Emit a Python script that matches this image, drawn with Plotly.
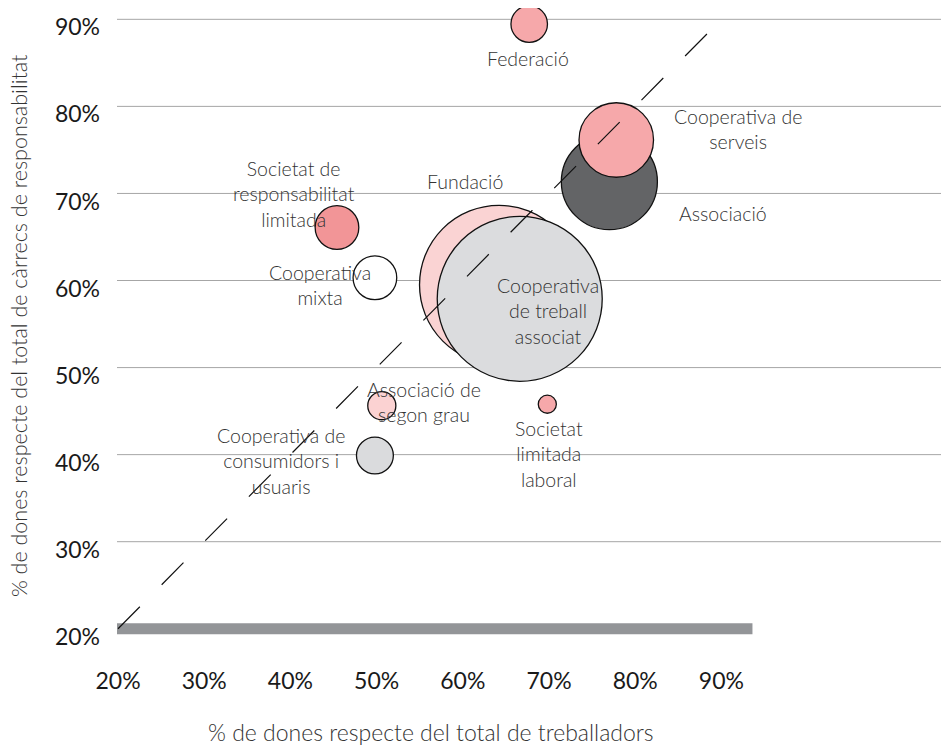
import plotly.graph_objects as go

# ---- data ----
categories = [
    "Associació", "Cooperativa de serveis", "Fundació",
    "Cooperativa de treball associat", "Federació",
    "Societat de responsabilitat limitada", "Cooperativa mixta",
    "Associació de segon grau", "Cooperativa de consumidors i usuaris",
    "Societat limitada laboral",
]
pct_treballadores = [77.0, 77.8, 64.2, 66.6, 67.7, 45.4, 49.8, 50.6, 49.8, 69.8]
pct_carrecs = [71.35, 76.14, 59.5, 57.9, 89.46, 66.09, 60.32, 45.62, 39.90, 45.79]
pes = [33.9, 20.4, 92.9, 100.0, 4.9, 7.0, 7.0, 2.9, 5.0, 1.2]
diagonal = [20, 90]
tick_vals = [20, 30, 40, 50, 60, 70, 80, 90]
tick_text = ["20%", "30%", "40%", "50%", "60%", "70%", "80%", "90%"]

# ---- styles ----
colors = ["#636466", "#F6A8AA", "#FAD3D3", "#DBDCDE", "#F6A8AA",
          "#F29597", "#FFFFFF", "#FBD2D2", "#DADBDD", "#F6A8AA"]
label_text = {
    "Associació": "Associació",
    "Cooperativa de serveis": "Cooperativa de<br>serveis",
    "Fundació": "Fundació",
    "Cooperativa de treball associat": "Cooperativa<br>de treball<br>associat",
    "Federació": "Federació",
    "Societat de responsabilitat limitada": "Societat de<br>responsabilitat<br>limitada",
    "Cooperativa mixta": "Cooperativa<br>mixta",
    "Associació de segon grau": "Associació de<br>segon grau",
    "Cooperativa de consumidors i usuaris": "Cooperativa de<br>consumidors i<br>usuaris",
    "Societat limitada laboral": "Societat<br>limitada<br>laboral",
}
label_pos = {
    "Associació": (90.19, 67.75),
    "Cooperativa de serveis": (91.93, 77.40),
    "Fundació": (60.26, 71.43),
    "Cooperativa de treball associat": (69.88, 56.50),
    "Federació": (67.56, 85.55),
    "Societat de responsabilitat limitada": (40.42, 69.94),
    "Cooperativa mixta": (43.43, 59.49),
    "Associació de segon grau": (55.50, 46.05),
    "Cooperativa de consumidors i usuaris": (38.91, 39.27),
    "Societat limitada laboral": (70.0, 40.08),
}

LIGHT = "Lato Light, Lato, sans-serif"
REG = "Lato, sans-serif"
max_r = 82.5
sizeref = max(pes) / (2 * max_r ** 2)

fig = go.Figure()
fig.add_trace(go.Scatter(
    x=pct_treballadores, y=pct_carrecs, mode="markers",
    text=categories, hoverinfo="text",
    marker=dict(size=pes, sizemode="area", sizeref=sizeref,
                color=colors, opacity=1,
                line=dict(color="#111111", width=1.3)),
    showlegend=False, cliponaxis=False,
))
fig.add_trace(go.Scatter(
    x=diagonal, y=diagonal, mode="lines",
    line=dict(color="#111111", width=1.2, dash="31px,31px"),
    hoverinfo="skip", showlegend=False,
))

for v in tick_vals[1:]:
    fig.add_shape(type="line", xref="paper", x0=0, x1=1, yref="y", y0=v, y1=v,
                  line=dict(color="#A6A6A6", width=1), layer="below")
fig.add_shape(type="line", xref="x", x0=19.8, x1=93.6, yref="y", y0=20, y1=20,
              line=dict(color="#939598", width=11), layer="below")

for cat in categories:
    lx, ly = label_pos[cat]
    fig.add_annotation(x=lx, y=ly, text=label_text[cat], showarrow=False,
                       xanchor="center", yanchor="middle",
                       font=dict(family=LIGHT, size=19.5, color="#333333", weight=300))

# page offset of 8px (body margin) is compensated: plot area spans page x 117..949, y 8..640
fig.add_annotation(xref="paper", yref="paper", x=(431 - 117) / 832, y=1 - (732 - 8) / 632,
                   text="% de dones respecte del total de treballadors",
                   showarrow=False, xanchor="center", yanchor="middle",
                   font=dict(family=LIGHT, size=23, color="#333333", weight=300))
fig.add_annotation(xref="paper", yref="paper", x=(19 - 117) / 832, y=1 - (326 - 8) / 632,
                   text="% de dones respecte del total de càrrecs de responsabilitat",
                   textangle=-90, showarrow=False, xanchor="center", yanchor="middle",
                   font=dict(family=LIGHT, size=21.5, color="#333333", weight=300))

fig.update_layout(
    width=941, height=738,
    margin=dict(l=109, r=0, t=0, b=106),
    paper_bgcolor="white", plot_bgcolor="white",
    xaxis=dict(range=[19.88, 116.4], tickvals=tick_vals, ticktext=tick_text,
               showgrid=False, zeroline=False, showline=False, ticks="",
               ticklabelstandoff=25,
               tickfont=dict(family=REG, size=23, color="#1A1A1A")),
    yaxis=dict(range=[18.71, 91.30], tickvals=tick_vals, ticktext=tick_text,
               showgrid=False, zeroline=False, showline=False, ticks="",
               ticklabelstandoff=16, ticklabelshift=8,
               tickfont=dict(family=REG, size=23, color="#1A1A1A")),
)

fig.write_html("out.html")
